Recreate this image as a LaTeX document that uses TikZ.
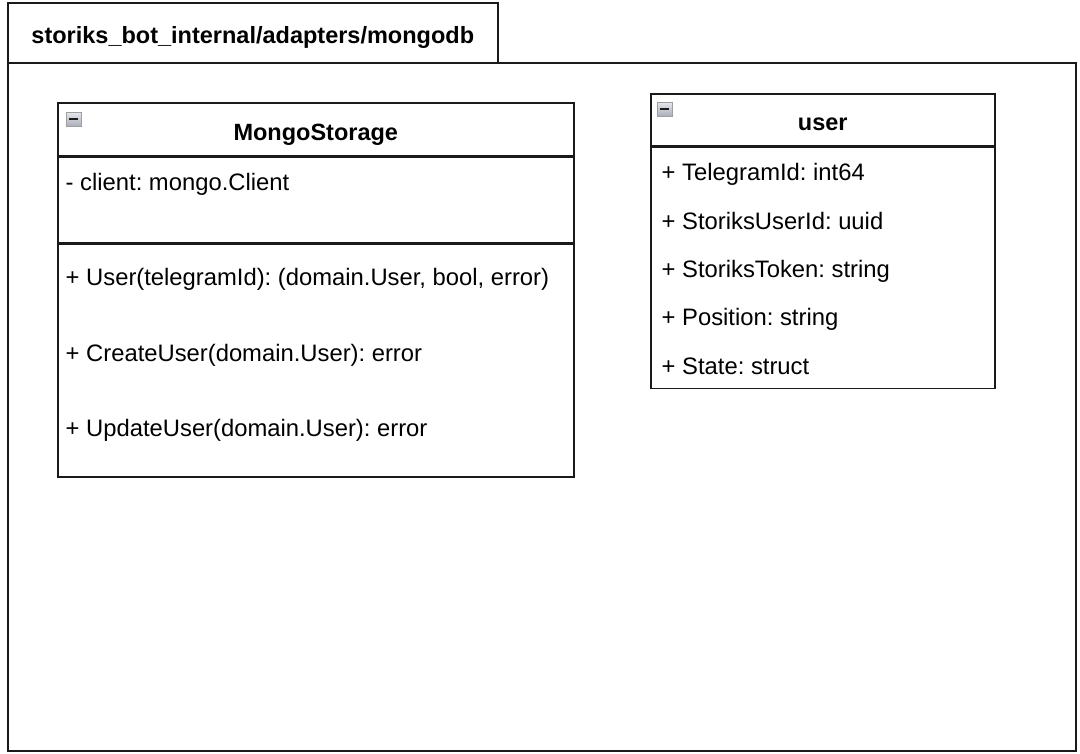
\documentclass[tikz,border=0pt]{standalone}
\usepackage{fontspec}
\setmainfont{Liberation Sans}
\usetikzlibrary{positioning}
\definecolor{ink}{HTML}{1A1A1A}
\definecolor{togtop}{HTML}{E4E6EC}
\definecolor{togbot}{HTML}{A9ADB8}
\tikzset{
  box/.style={draw=ink, line width=1.6pt, fill=white, inner sep=0pt, anchor=north west},
  head/.style={box, text height=22pt, text depth=0pt, font=\fontsize{23.5}{28}\selectfont\bfseries},
  member/.style={anchor=west, inner sep=0pt, text height=17pt, text depth=5pt,
    font=\fontsize{23.8}{28}\selectfont},
  tog/.style={draw=gray!75, line width=0.8pt, top color=togtop, bottom color=togbot,
    minimum width=15pt, minimum height=14pt, inner sep=0pt, anchor=north west},
}
\newcommand{\minus}{\textcolor{ink}{\rule[1pt]{9pt}{2.6pt}}}
\frenchspacing

\begin{document}
\begin{tikzpicture}[x=1pt, y=-1pt]
  \useasboundingbox (0,0) rectangle (1080,754);
  % package frame and its tab
  \node[box, minimum width=1068pt, minimum height=688pt] (pkg) at (7,62) {};
  \node[head, minimum width=490pt, minimum height=60pt] (tab) at (7,2)
    {storiks\_bot\_internal/adapters/mongodb};
  % MongoStorage
  \node[head, minimum width=516pt, minimum height=53pt] (msHead) at (57,102) {MongoStorage};
  \node[box, minimum width=516pt, minimum height=85pt, below=0pt of msHead.south west, anchor=north west] (msAttr) {};
  \node[box, minimum width=516pt, minimum height=233pt, below=0pt of msAttr.south west, anchor=north west] (msOps) {};
  \node[tog] (msTog) at (66,112) {\minus};
  \node[member] (msClient) at (65.5,185) {- client: mongo.Client};
  \node[member] (msUser) at (65.5,280) {+ User(telegramId): (domain.User, bool, error)};
  \node[member] (msCreate) at (65.5,355) {+ CreateUser(domain.User): error};
  \node[member] (msUpdate) at (65.5,430) {+ UpdateUser(domain.User): error};
  % user
  \node[head, minimum width=344pt, minimum height=52pt] (uHead) at (650,93) {user};
  \node[box, minimum width=344pt, minimum height=241pt, below=0pt of uHead.south west, anchor=north west] (uBody) {};
  \node[tog] (uTog) at (657,102) {\minus};
  \foreach \txt [count=\i] in {TelegramId: int64, StoriksUserId: uuid,
      StoriksToken: string, Position: string, State: struct}
    \node[member] (uAttr\i) at (661.5,126.5+48.3*\i) {+ \txt};
\end{tikzpicture}
\end{document}
